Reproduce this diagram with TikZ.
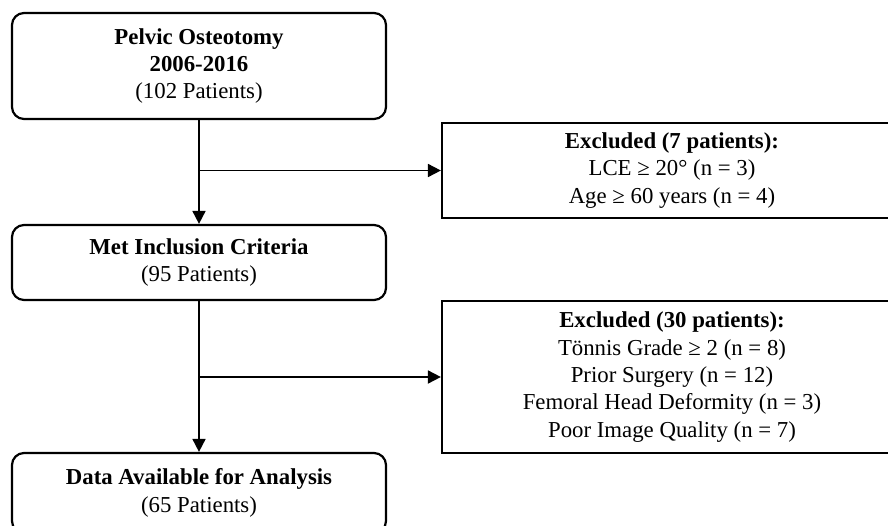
\documentclass[tikz,border=0pt]{standalone}
\usepackage{fontspec}
\setmainfont{Liberation Serif}
\usepackage{tikz}
\usetikzlibrary{arrows.meta, positioning, calc}

\begin{document}
\begin{tikzpicture}[x=1pt, y=-1pt,
    font=\fontsize{22.8}{27.3}\selectfont,
    mainbox/.style={draw, line width=2.2pt, rounded corners=12pt, align=center,
      minimum width=374pt, inner sep=0pt},
    exclbox/.style={draw, line width=2.2pt, align=center,
      minimum width=460pt, inner sep=0pt},
    flowarrow/.style={line width=1.8pt, -{Triangle[length=13pt, width=13pt]}}]
  % Define constants
  \def\mainx{199}
  \def\exclx{672}

  % Fix the canvas to the page size
  \useasboundingbox (0,0) rectangle (888,525);
  \clip (0,0) rectangle (888,525);

  % Main column boxes
  \node[mainbox, minimum height=106pt] (pelvic) at (\mainx,66)
    {\textbf{Pelvic Osteotomy}\\\textbf{2006-2016}\\(102 Patients)};
  \node[mainbox, minimum height=75pt] (met) at (\mainx,262.5)
    {\textbf{Met Inclusion Criteria}\\(95 Patients)};
  \node[mainbox, minimum height=80pt] (data) at (\mainx,493)
    {\textbf{Data Available for Analysis}\\(65 Patients)};

  % Exclusion boxes
  \node[exclbox, minimum height=95pt] (exclfirst) at (\exclx,170.5)
    {\textbf{Excluded (7 patients):}\\LCE ≥ 20° (n = 3)\\Age ≥ 60 years (n = 4)};
  \node[exclbox, minimum height=152pt] (exclsecond) at (\exclx,377)
    {\textbf{Excluded (30 patients):}\\Tönnis Grade ≥ 2 (n = 8)\\Prior Surgery (n = 12)\\Femoral Head Deformity (n = 3)\\Poor Image Quality (n = 7)};

  % Junctions on the main line
  \coordinate (splitfirst) at (pelvic.south |- exclfirst.west);
  \coordinate (splitsecond) at (met.south |- exclsecond.west);

  % Connectors
  \draw[flowarrow] (pelvic.south) -- (met.north);
  \draw[flowarrow] (splitfirst) -- (exclfirst.west);
  \draw[flowarrow] (met.south) -- (data.north);
  \draw[flowarrow] (splitsecond) -- (exclsecond.west);

\end{tikzpicture}
\end{document}
